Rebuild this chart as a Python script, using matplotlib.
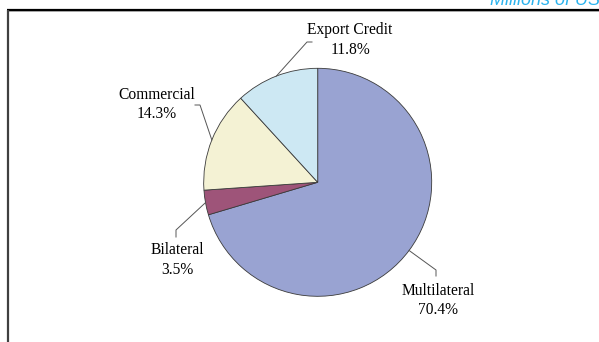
import numpy as np
import matplotlib
matplotlib.use("Agg")
import matplotlib.pyplot as plt

# Shares of total financing by source (%)
sources = ["Multilateral", "Bilateral", "Commercial", "Export Credit"]
shares = [70.4, 3.5, 14.3, 11.8]
colors = ["#99A3D2", "#9E5479", "#F4F2D4", "#CDE8F3"]

# label placement in pixels: (elbow, tick end, text centre)
label_layout = {
    "Multilateral": ((436, 270), (436, 276), (438, 291)),
    "Bilateral": ((176, 230), (176, 237), (177, 250)),
    "Commercial": ((200, 105), (195, 105), (157, 95)),
    "Export Credit": ((307, 42), (312, 42), (350, 30)),
}

W, H = 599, 342
cx, cy, R = 317.7, 182.3, 114.0

fig = plt.figure(figsize=(W / 100, H / 100), dpi=100)
fig.patch.set_facecolor("white")

ax = fig.add_axes([(cx - R) / W, (H - cy - R) / H, 2 * R / W, 2 * R / H])
wedges, _ = ax.pie(shares, colors=colors, startangle=90, counterclock=False,
                   radius=1.0,
                   wedgeprops=dict(edgecolor="#3a3a3a", linewidth=0.6))
ax.set_xlim(-1, 1)
ax.set_ylim(-1, 1)
ax.set_aspect("auto")
ax.axis("off")

# overlay in pixel coordinates for frame, leaders and labels
ov = fig.add_axes([0, 0, 1, 1], zorder=5)
ov.set_xlim(0, W)
ov.set_ylim(H, 0)
ov.axis("off")

# frame: heavy rule at top, grey rule down the left
ov.plot([7, W], [9.5, 9.5], color="black", lw=1.6, solid_capstyle="butt")
ov.plot([7, W], [11, 11], color="#9a9a9a", lw=0.6, solid_capstyle="butt")
ov.plot([7.5, 7.5], [9.5, H], color="#404040", lw=1.6, solid_capstyle="butt")

ov.text(490, 5, "Millions of US$", color="#2BB3EE", fontsize=13,
        style="italic", family="Liberation Sans", ha="left", va="baseline")

serif = "Liberation Serif"
for w, name, val in zip(wedges, sources, shares):
    mid = np.deg2rad((w.theta1 + w.theta2) / 2)
    x0 = cx + R * np.cos(mid)
    y0 = cy - R * np.sin(mid)
    elbow, tick, (tx, ty) = label_layout[name]
    ov.plot([x0, elbow[0], tick[0]], [y0, elbow[1], tick[1]],
            color="#555555", lw=0.7)
    ov.text(tx, ty, name, family=serif, fontsize=11.2, ha="center",
            va="center")
    ov.text(tx, ty + 19.5, f"{val:.1f}%", family=serif, fontsize=11.2,
            ha="center", va="center")

fig.savefig("out.png", dpi=100)
